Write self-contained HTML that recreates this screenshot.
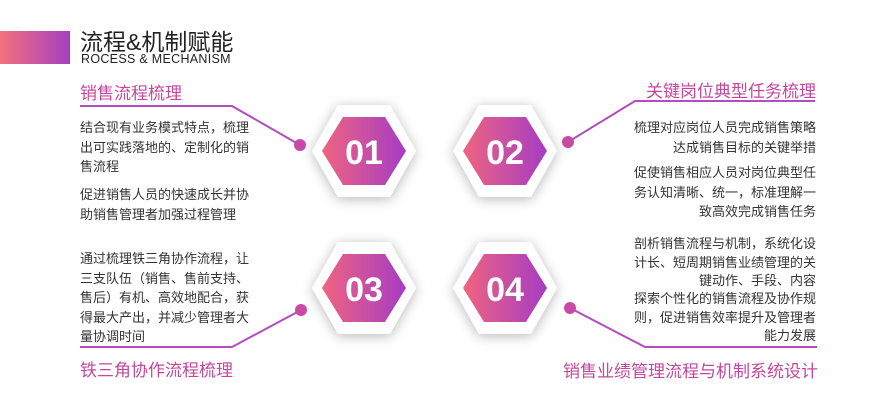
<!DOCTYPE html>
<html><head><meta charset="utf-8"><style>
body{margin:0;width:892px;height:408px;background:#fff;position:relative;overflow:hidden;font-family:"Liberation Sans","Noto Sans CJK SC",sans-serif;}
.a{position:absolute;white-space:nowrap}
.t{font-size:17px;color:#c2489e}
.p{font-size:13px;line-height:19.5px;color:#333}
.r{text-align:right}
</style></head><body>
<div class="a" style="left:0;top:31px;width:70px;height:33px;background:linear-gradient(90deg,#f4717c,#a43fc0)"></div>
<div class="a" style="left:80px;top:29px;font-size:23px;color:#222;line-height:27px">流程&amp;机制赋能</div>
<div class="a" style="left:81px;top:52px;font-size:12.5px;color:#222;letter-spacing:0.3px">ROCESS &amp; MECHANISM</div>

<svg class="a" style="left:0;top:0" width="892" height="408">
<defs>
<linearGradient id="g" x1="0" x2="1"><stop offset="0" stop-color="#ef6480"/><stop offset="1" stop-color="#a53cc4"/></linearGradient>
<filter id="s" x="-40%" y="-40%" width="180%" height="180%"><feDropShadow dx="0" dy="2" stdDeviation="6" flood-color="#000" flood-opacity="0.28"/></filter>
</defs>
<g stroke="#b24cc0" stroke-width="2" fill="none">
<polyline points="80,106 232,106 300,145"/>
<polyline points="568,142 635,101 815,101"/>
<polyline points="80,347 232,347 301,310"/>
<polyline points="570,308 645,347 817,347"/>
</g>
<g fill="#c84aa6"><circle cx="300" cy="145" r="6"/><circle cx="568" cy="142" r="6"/><circle cx="301" cy="310" r="6"/><circle cx="570" cy="308" r="6"/></g>
<g id="h">
<polygon filter="url(#s)" fill="#fff" points="312,151 338,105 390,105 416,151 390,197 338,197"/>
<polygon fill="url(#g)" points="322,151 343,117 385,117 406,151 385,185 343,185"/>
</g>
<use href="#h" x="141"/>
<use href="#h" y="137"/>
<use href="#h" x="141" y="137"/>
<g fill="#fff" font-family="Liberation Sans" font-size="34" font-weight="bold" text-anchor="middle">
<text x="364" y="164">01</text><text x="505" y="164">02</text><text x="364" y="301">03</text><text x="505" y="301">04</text>
</g>
</svg>

<div class="a t" style="left:80px;top:79px">销售流程梳理</div>
<div class="a p" style="left:80px;top:118px">结合现有业务模式特点，梳理<br>出可实践落地的、定制化的销<br>售流程</div>
<div class="a p" style="left:80px;top:185px">促进销售人员的快速成长并协<br>助销售管理者加强过程管理</div>

<div class="a t r" style="right:76px;top:77px">关键岗位典型任务梳理</div>
<div class="a p r" style="right:76px;top:118px">梳理对应岗位人员完成销售策略<br>达成销售目标的关键举措</div>
<div class="a p r" style="right:76px;top:163px">促使销售相应人员对岗位典型任<br>务认知清晰、统一，标准理解一<br>致高效完成销售任务</div>

<div class="a p" style="left:80px;top:249px">通过梳理铁三角协作流程，让<br>三支队伍（销售、售前支持、<br>售后）有机、高效地配合，获<br>得最大产出，并减少管理者大<br>量协调时间</div>
<div class="a t" style="left:80px;top:356px">铁三角协作流程梳理</div>

<div class="a p r" style="right:76px;top:235px;line-height:18.5px">剖析销售流程与机制，系统化设<br>计长、短周期销售业绩管理的关<br>键动作、手段、内容</div>
<div class="a p r" style="right:76px;top:290px;line-height:18.5px">探索个性化的销售流程及协作规<br>则，促进销售效率提升及管理者<br>能力发展</div>
<div class="a t r" style="right:74px;top:357px">销售业绩管理流程与机制系统设计</div>
</body></html>
